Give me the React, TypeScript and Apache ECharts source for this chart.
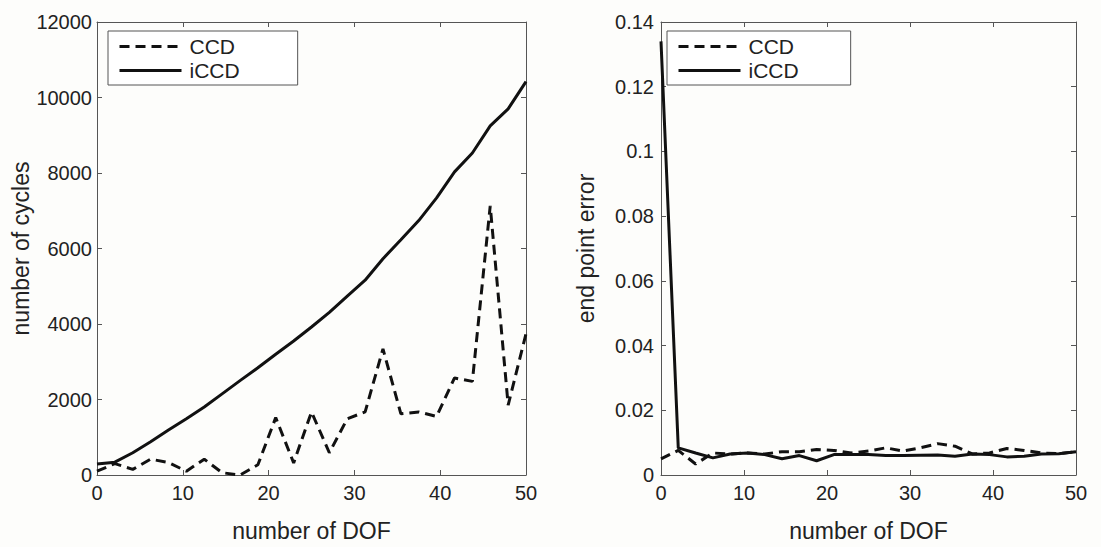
import React, { useEffect, useRef } from "react";
import * as echarts from "echarts";

const dof = [0, 2.08, 4.17, 6.25, 8.33, 10.42, 12.5, 14.58, 16.67, 18.75, 20.83, 22.92, 25, 27.08, 29.17, 31.25, 33.33, 35.42, 37.5, 39.58, 41.67, 43.75, 45.83, 47.92, 50];

const cyclesCCD = [100, 300, 150, 420, 330, 100, 420, 60, 0, 270, 1520, 320, 1670, 590, 1490, 1670, 3340, 1620, 1670, 1550, 2570, 2480, 7130, 1850, 3740];
const cyclesICCD = [290, 340, 590, 880, 1190, 1490, 1800, 2150, 2500, 2840, 3200, 3550, 3920, 4310, 4740, 5160, 5730, 6230, 6740, 7340, 8030, 8530, 9250, 9700, 10420];

const errCCD = [0.005, 0.0076, 0.0034, 0.0068, 0.0065, 0.0068, 0.0065, 0.0072, 0.0072, 0.0079, 0.0076, 0.0068, 0.0074, 0.0084, 0.0074, 0.0084, 0.0097, 0.0089, 0.0065, 0.0068, 0.0082, 0.0076, 0.0068, 0.0066, 0.0072];
const errICCD = [0.134, 0.0084, 0.0068, 0.0053, 0.0065, 0.0068, 0.0063, 0.005, 0.006, 0.0044, 0.0063, 0.0063, 0.0063, 0.006, 0.006, 0.0061, 0.0062, 0.0058, 0.0065, 0.0063, 0.0056, 0.0058, 0.0065, 0.0066, 0.0072];

const seriesNames = ["CCD", "iCCD"];
const xLabel = "number of DOF";
const yLabelLeft = "number of cycles";
const yLabelRight = "end point error";

const FONT = "'Liberation Sans', Arial, Helvetica, sans-serif";
const AXIS = "#555";
const TEXT = "#222";

const pair = (xs: number[], ys: number[]) => xs.map((x, i) => [x, ys[i]]);

export default function App() {
  const ref = useRef<HTMLDivElement>(null);
  useEffect(() => {
    if (!ref.current) return;
    const chart = echarts.init(ref.current, null, { renderer: "svg" });
    const grids = [
      { left: 97, right: 575, top: 22, bottom: 63 },
      { left: 661, right: 25, top: 22, bottom: 63 },
    ];
    const mkX = (gi: number, pos: "bottom" | "top") => ({
      type: "value",
      gridIndex: gi,
      position: pos,
      min: 0,
      max: 50,
      interval: 10,
      name: pos === "bottom" ? xLabel : "",
      nameLocation: "middle",
      nameGap: 44,
      nameTextStyle: { fontFamily: FONT, fontSize: 23, color: TEXT },
      axisLine: { show: true, onZero: false, lineStyle: { color: AXIS, width: 1 } },
      axisTick: { show: true, inside: true, length: 5, lineStyle: { color: AXIS } },
      axisLabel: { show: pos === "bottom", fontFamily: FONT, fontSize: 20, color: TEXT, margin: 8 },
      splitLine: { show: false },
    });
    const mkY = (gi: number, pos: "left" | "right", max: number, interval: number, name: string, margin: number, fmt: (v: number) => string) => ({
      type: "value",
      gridIndex: gi,
      position: pos,
      min: 0,
      max,
      interval,
      name: pos === "left" ? name : "",
      nameLocation: "middle",
      nameGap: 64,
      nameTextStyle: { fontFamily: FONT, fontSize: 23, color: TEXT },
      axisLine: { show: true, onZero: false, lineStyle: { color: AXIS, width: 1 } },
      axisTick: { show: true, inside: true, length: 5, lineStyle: { color: AXIS } },
      axisLabel: { show: pos === "left", fontFamily: FONT, fontSize: 20, color: TEXT, margin, formatter: fmt },
      splitLine: { show: false },
    });
    const fmtInt = (v: number) => String(v);
    const fmtDec = (v: number) => (v === 0 ? "0" : String(+v.toFixed(2)));
    const mkSeries = (name: string, data: number[][], gi: number) => ({
      type: "line",
      name,
      xAxisIndex: gi * 2,
      yAxisIndex: gi * 2,
      data,
      symbol: "none",
      showSymbol: false,
      itemStyle: { color: "#111" },
      lineStyle: { color: "#111", width: 3, type: name === "CCD" ? [10, 6] : "solid" },
      z: name === "iCCD" ? 3 : 2,
    });
    const mkLegend = (left: number, rightPad: number) => ({
      left,
      top: 31,
      orient: "vertical",
      data: seriesNames,
      itemWidth: 62,
      itemHeight: 14,
      itemGap: 3,
      padding: [5, rightPad, 4, 10],
      backgroundColor: "#fff",
      borderColor: AXIS,
      borderWidth: 1,
      borderRadius: 0,
      selectedMode: false,
      itemStyle: { color: "transparent", borderColor: "transparent", borderWidth: 0, opacity: 0 },
      lineStyle: { width: 3 },
      textStyle: { fontFamily: FONT, fontSize: 21, color: TEXT, padding: [0, 0, 0, 3] },
    });
    chart.setOption({
      animation: false,
      backgroundColor: "#fdfdfb",
      grid: grids,
      xAxis: [mkX(0, "bottom"), mkX(0, "top"), mkX(1, "bottom"), mkX(1, "top")],
      yAxis: [
        mkY(0, "left", 12000, 2000, yLabelLeft, 5, fmtInt),
        mkY(0, "right", 12000, 2000, "", 5, fmtInt),
        mkY(1, "left", 0.14, 0.02, yLabelRight, 7, fmtDec),
        mkY(1, "right", 0.14, 0.02, "", 7, fmtDec),
      ],
      legend: [mkLegend(108, 58), mkLegend(667, 52)],
      series: [
        mkSeries("CCD", pair(dof, cyclesCCD), 0),
        mkSeries("iCCD", pair(dof, cyclesICCD), 0),
        mkSeries("CCD", pair(dof, errCCD), 1),
        mkSeries("iCCD", pair(dof, errICCD), 1),
      ],
    });
    return () => chart.dispose();
  }, []);
  return <div ref={ref} style={{ width: 1101, height: 547, position: "absolute", left: 0, top: 0 }} />;
}
